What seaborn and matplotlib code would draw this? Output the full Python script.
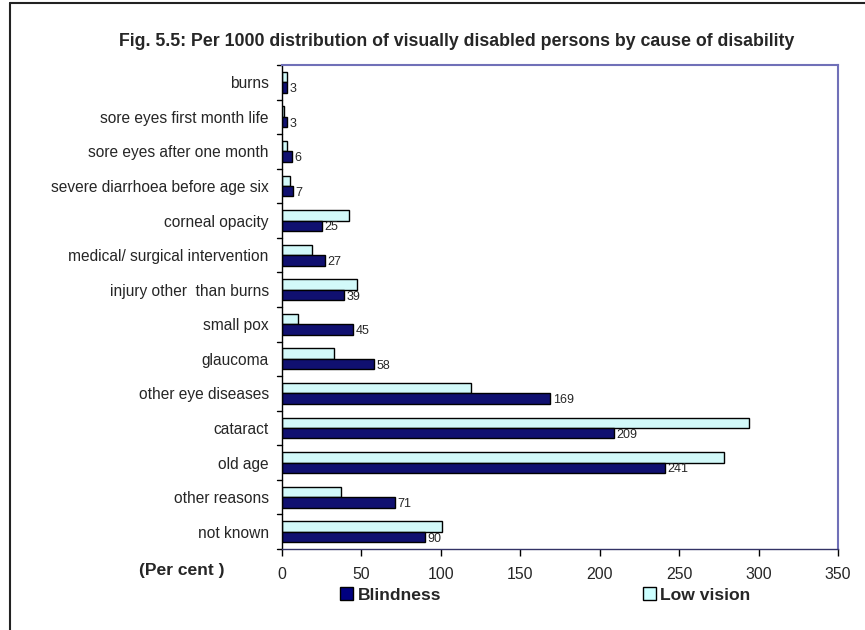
import pandas as pd
import matplotlib.pyplot as plt
import seaborn as sns
from matplotlib.patches import Patch

causes = ["burns", "sore eyes first month life", "sore eyes after one month",
          "severe diarrhoea before age six", "corneal opacity",
          "medical/ surgical intervention", "injury other  than burns",
          "small pox", "glaucoma", "other eye diseases", "cataract",
          "old age", "other reasons", "not known"]
blindness = [3, 3, 6, 7, 25, 27, 39, 45, 58, 169, 209, 241, 71, 90]
low_vision = [3, 1, 3, 5, 42, 19, 47, 10, 33, 119, 294, 278, 37, 101]

df = pd.DataFrame({
    "cause": causes * 2,
    "value": low_vision + blindness,
    "series": ["Low vision"] * len(causes) + ["Blindness"] * len(causes),
})

sns.set_style("white")
plt.rcParams["font.family"] = ["Liberation Sans", "DejaVu Sans"]

fig = plt.figure(figsize=(8.65, 6.3), dpi=100)
ax = fig.add_axes([282 / 865, 1 - 549 / 630, 556 / 865, 484 / 630])

colors = {"Low vision": "#CCFFFF", "Blindness": "#000080"}
sns.barplot(data=df, y="cause", x="value", hue="series", orient="h",
            hue_order=["Low vision", "Blindness"], palette=colors,
            width=0.6, edgecolor="black", linewidth=1, ax=ax, legend=False)

# value labels at the end of the Blindness bars
for bar, v in zip(ax.containers[1], blindness):
    yc = bar.get_y() + bar.get_height() / 2
    ax.text(v + 1.5, yc + 0.05, str(v), fontsize=9, ha="left", va="center")

ax.set_xlim(0, 350)
ax.set_xticks(range(0, 351, 50))
ax.set_ylim(len(causes) - 0.5, -0.5)
ax.set_xlabel("")
ax.set_ylabel("")
ax.tick_params(axis="x", labelsize=11.4, length=5, width=1, direction="out",
               bottom=True, pad=8, color="black")
ax.tick_params(axis="y", labelsize=11.2, length=0, pad=9.5)
# category separator ticks on the y axis, Excel style
for k in range(len(causes) + 1):
    ax.plot([-0.009, 0], [k - 0.5, k - 0.5], transform=ax.get_yaxis_transform(),
            color="black", lw=1, clip_on=False)

for side in ["top", "right"]:
    ax.spines[side].set_color("#7070B8")
    ax.spines[side].set_linewidth(1.5)
ax.spines["left"].set_color("black")
ax.spines["bottom"].set_color("#333366")
ax.spines["left"].set_linewidth(1)
ax.spines["bottom"].set_linewidth(1)

fig.text(457 / 865, 1 - 41 / 630,
         "Fig. 5.5: Per 1000 distribution of visually disabled persons by cause of disability",
         ha="center", va="center", fontsize=12.8, fontweight="bold")
fig.text(182 / 865, 1 - 571 / 630, "(Per cent )", ha="center", va="center",
         fontsize=12.6, fontweight="bold")

leg_kw = dict(loc="center left", frameon=False, prop={"weight": "bold", "size": 12.6},
              handlelength=0.75, handleheight=0.75, handletextpad=0.25,
              borderaxespad=0, borderpad=0)
fig.legend(handles=[Patch(facecolor="#000080", edgecolor="black", label="Blindness")],
           bbox_to_anchor=(340 / 865, 1 - 595 / 630), **leg_kw)
fig.legend(handles=[Patch(facecolor="#CCFFFF", edgecolor="black", label="Low vision")],
           bbox_to_anchor=(643 / 865, 1 - 595 / 630), **leg_kw)

# outer chart frame (left and top edges visible)
fig.add_artist(plt.Line2D([10 / 865, 10 / 865], [0, 1 - 3 / 630],
                          transform=fig.transFigure, color="#222222", lw=1.5))
fig.add_artist(plt.Line2D([10 / 865, 1], [1 - 3 / 630, 1 - 3 / 630],
                          transform=fig.transFigure, color="#222222", lw=1.5))

fig.savefig("out.png", dpi=100)
